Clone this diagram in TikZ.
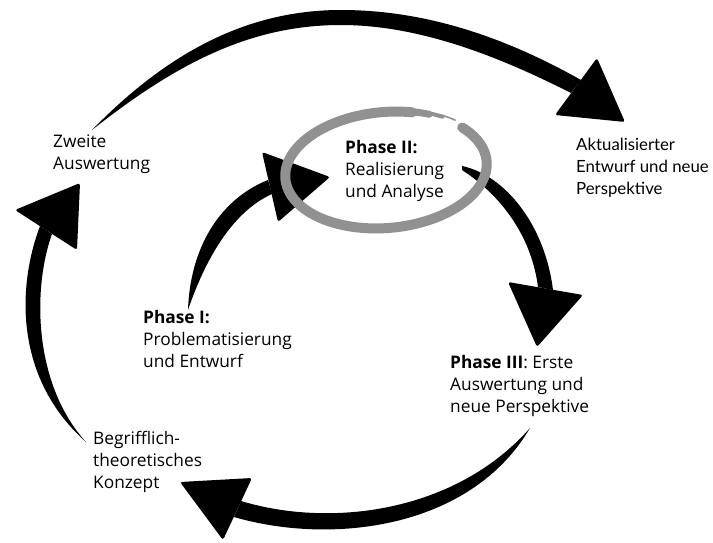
\documentclass[tikz,border=0pt]{standalone}
\usepackage{fontspec}
\setmainfont{Open Sans}
\newfontfamily\gillfont{Lato}
\begin{document}
\begin{tikzpicture}[x=1pt,y=-1pt]
\definecolor{ringgray}{RGB}{145,145,145}
\tikzset{
  lbl/.style={anchor=base west, align=left, inner sep=0pt,
    font=\fontsize{17.3}{22}\selectfont},
  brush/.style={fill=black},
  head/.style={fill=black, rounded corners=2.5pt},
  ring/.style={draw=ringgray, line cap=round}
}
\useasboundingbox (0,0) rectangle (713,543);

% outer cycle: top arc towards the updated draft
\fill[brush] (92,130) .. controls (170,50) and (250,10) .. (341,10)
  .. controls (430,10) and (510,40) .. (581,80)
  -- (571,93) .. controls (500,57) and (420,25) .. (341,25)
  .. controls (252,25) and (178,62) .. (92,130) -- cycle;
\fill[head] (597,58) -- (555,115) -- (625,122) -- cycle;

% outer cycle: left arc up to the second evaluation
\fill[brush] (40,226) .. controls (16,290) and (16,380) .. (86,442)
  .. controls (34,385) and (32,290) .. (52,234) -- cycle;
\fill[head] (80,183) -- (15,210) -- (77,250) -- cycle;

% outer cycle: bottom arc back to the concept
\fill[brush] (234,517) .. controls (330,545) and (470,530) .. (530,428)
  .. controls (455,513) and (330,528) .. (241,501) -- cycle;
\fill[head] (180,482) -- (252,478) -- (223,540) -- cycle;

% inner cycle: phase I to phase II
\fill[brush] (188,310) .. controls (190,250) and (218,200) .. (268,180)
  -- (272,194) .. controls (232,212) and (205,260) .. (188,310) -- cycle;
\fill[head] (262,152) -- (330,177) -- (278,222) -- cycle;

% inner cycle: phase II to phase III
\fill[brush] (462,166) .. controls (505,175) and (545,225) .. (553,290)
  -- (538,287) .. controls (532,240) and (505,198) .. (462,170) -- cycle;
\fill[head] (508,282) -- (583,295) -- (537,347) -- cycle;

% brush ring around phase II
\draw[ring, line width=10pt] plot[variable=\t, domain=-38:288, samples=140, smooth]
  ({386+101*cos(\t)*cos(-5)-58*sin(\t)*sin(-5)},
   {170+101*cos(\t)*sin(-5)+58*sin(\t)*cos(-5)});
\foreach \a/\b/\w/\k in {286/298/7/1.01, 296/306/4/1.025, 304/314/1.6/1.045}{
  \draw[ring, line width=\w pt] plot[variable=\t, domain=\a:\b, samples=12, smooth]
    ({386+\k*101*cos(\t)*cos(-5)-\k*58*sin(\t)*sin(-5)},
     {170+\k*101*cos(\t)*sin(-5)+\k*58*sin(\t)*cos(-5)});
}

% labels (anchored at the baseline of their last line)
\node[lbl] (zweite) at (53,169) {Zweite\\Auswertung};
\node[lbl] (phaseII) at (345,197) {\textbf{Phase II:}\\Realisierung\\und Analyse};
\node[lbl] (phaseI) at (143,367) {\textbf{Phase I:}\\Problematisierung\\und Entwurf};
\node[lbl] (phaseIII) at (450,412) {\textbf{Phase III}: Erste\\Auswertung und\\neue Perspektive};
\node[lbl] (begriff) at (93,488) {Begrifflich-\\theoretisches\\Konzept};
\node[lbl, font=\gillfont\fontsize{16.8}{22}\selectfont] (aktual) at (576,194)
  {Aktualisierter\\Entwurf und neue\\Perspektive};
\end{tikzpicture}
\end{document}
